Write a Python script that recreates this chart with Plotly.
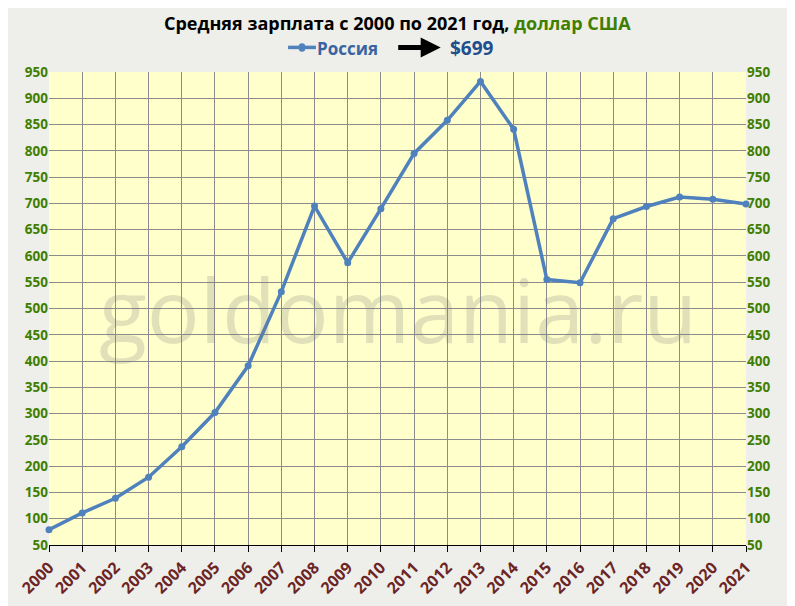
import plotly.graph_objects as go

years = list(range(2000, 2022))
salary = [79, 111, 139, 179, 237, 302, 391, 532, 695, 587, 690, 795, 858, 932, 841, 555, 549, 671, 694, 712, 708, 699]
yticks = list(range(50, 951, 50))

fig = go.Figure()
fig.add_trace(go.Scatter(x=years, y=salary, mode="lines+markers",
    line=dict(color="#4F81BD", width=3.5), marker=dict(size=7, color="#4F81BD"),
    showlegend=False, cliponaxis=False))
fig.add_trace(go.Scatter(x=[years[0]], y=[salary[0]], yaxis="y2", mode="markers",
    marker=dict(opacity=0), showlegend=False, hoverinfo="skip"))

tickfont_y = dict(family="Open Sans", size=13.5, color="#3F7F00", weight="bold")
fig.update_layout(
    width=787, height=598,
    margin=dict(l=41, r=49, t=64, b=61),
    paper_bgcolor="#EEEEEA", plot_bgcolor="#FFFFCC",
    xaxis=dict(range=[2000, 2021], tickmode="array", tickvals=years, ticktext=[str(y) for y in years],
        tickangle=-45, tickfont=dict(family="Open Sans", size=16, color="#6B2525", weight="bold"),
        showgrid=True, gridcolor="#8C8C8C", gridwidth=1, zeroline=False, automargin=False,
        ticks="outside", ticklen=6, tickcolor="#000", showline=True, linecolor="#000"),
    yaxis=dict(range=[50, 950], tickvals=yticks, tickfont=tickfont_y, showgrid=True, automargin=False,
        gridcolor="#8C8C8C", zeroline=False, showline=False),
    yaxis2=dict(range=[50, 950], tickvals=yticks, tickfont=tickfont_y, overlaying="y", automargin=False,
        side="right", showgrid=False, zeroline=False),
)
fig.add_annotation(text="Средняя зарплата с 2000 по 2021 год, <span style='color:#3F7F00'>доллар США</span>",
    x=0.5, y=1.104, xref="paper", yref="paper", yanchor="middle", showarrow=False,
    font=dict(family="Open Sans", size=18, color="#000", weight="bold"))
fig.add_annotation(text="goldomania.ru", x=0.5, y=0.5, xref="paper", yref="paper", showarrow=False,
    font=dict(family="Open Sans", size=88, color="rgba(120,120,120,0.22)"))
fig.add_annotation(text="<b>Россия</b>", x=0.475, y=1.05, xref="paper", yref="paper",
    xanchor="right", yanchor="middle", showarrow=False, font=dict(family="Open Sans", size=17, color="#3A64A0"))
fig.add_annotation(text="<b>$699</b>", x=0.572, y=1.05, xref="paper", yref="paper",
    xanchor="left", yanchor="middle", showarrow=False, font=dict(family="Open Sans", size=19, color="#1F4E8C"))
fig.add_shape(type="line", xref="paper", yref="paper", x0=0.343, x1=0.383, y0=1.052, y1=1.052,
    line=dict(color="#4F81BD", width=3.5))
fig.add_shape(type="circle", xref="paper", yref="paper", x0=0.358, x1=0.368, y0=1.043, y1=1.061,
    fillcolor="#4F81BD", line=dict(width=0))
fig.add_annotation(x=0.562, y=1.052, ax=-44, ay=0, xref="paper", yref="paper",
    axref="pixel", ayref="pixel", showarrow=True, arrowhead=2, arrowsize=0.8, arrowwidth=5,
    arrowcolor="#000", text="")
fig.write_html("out.html")
